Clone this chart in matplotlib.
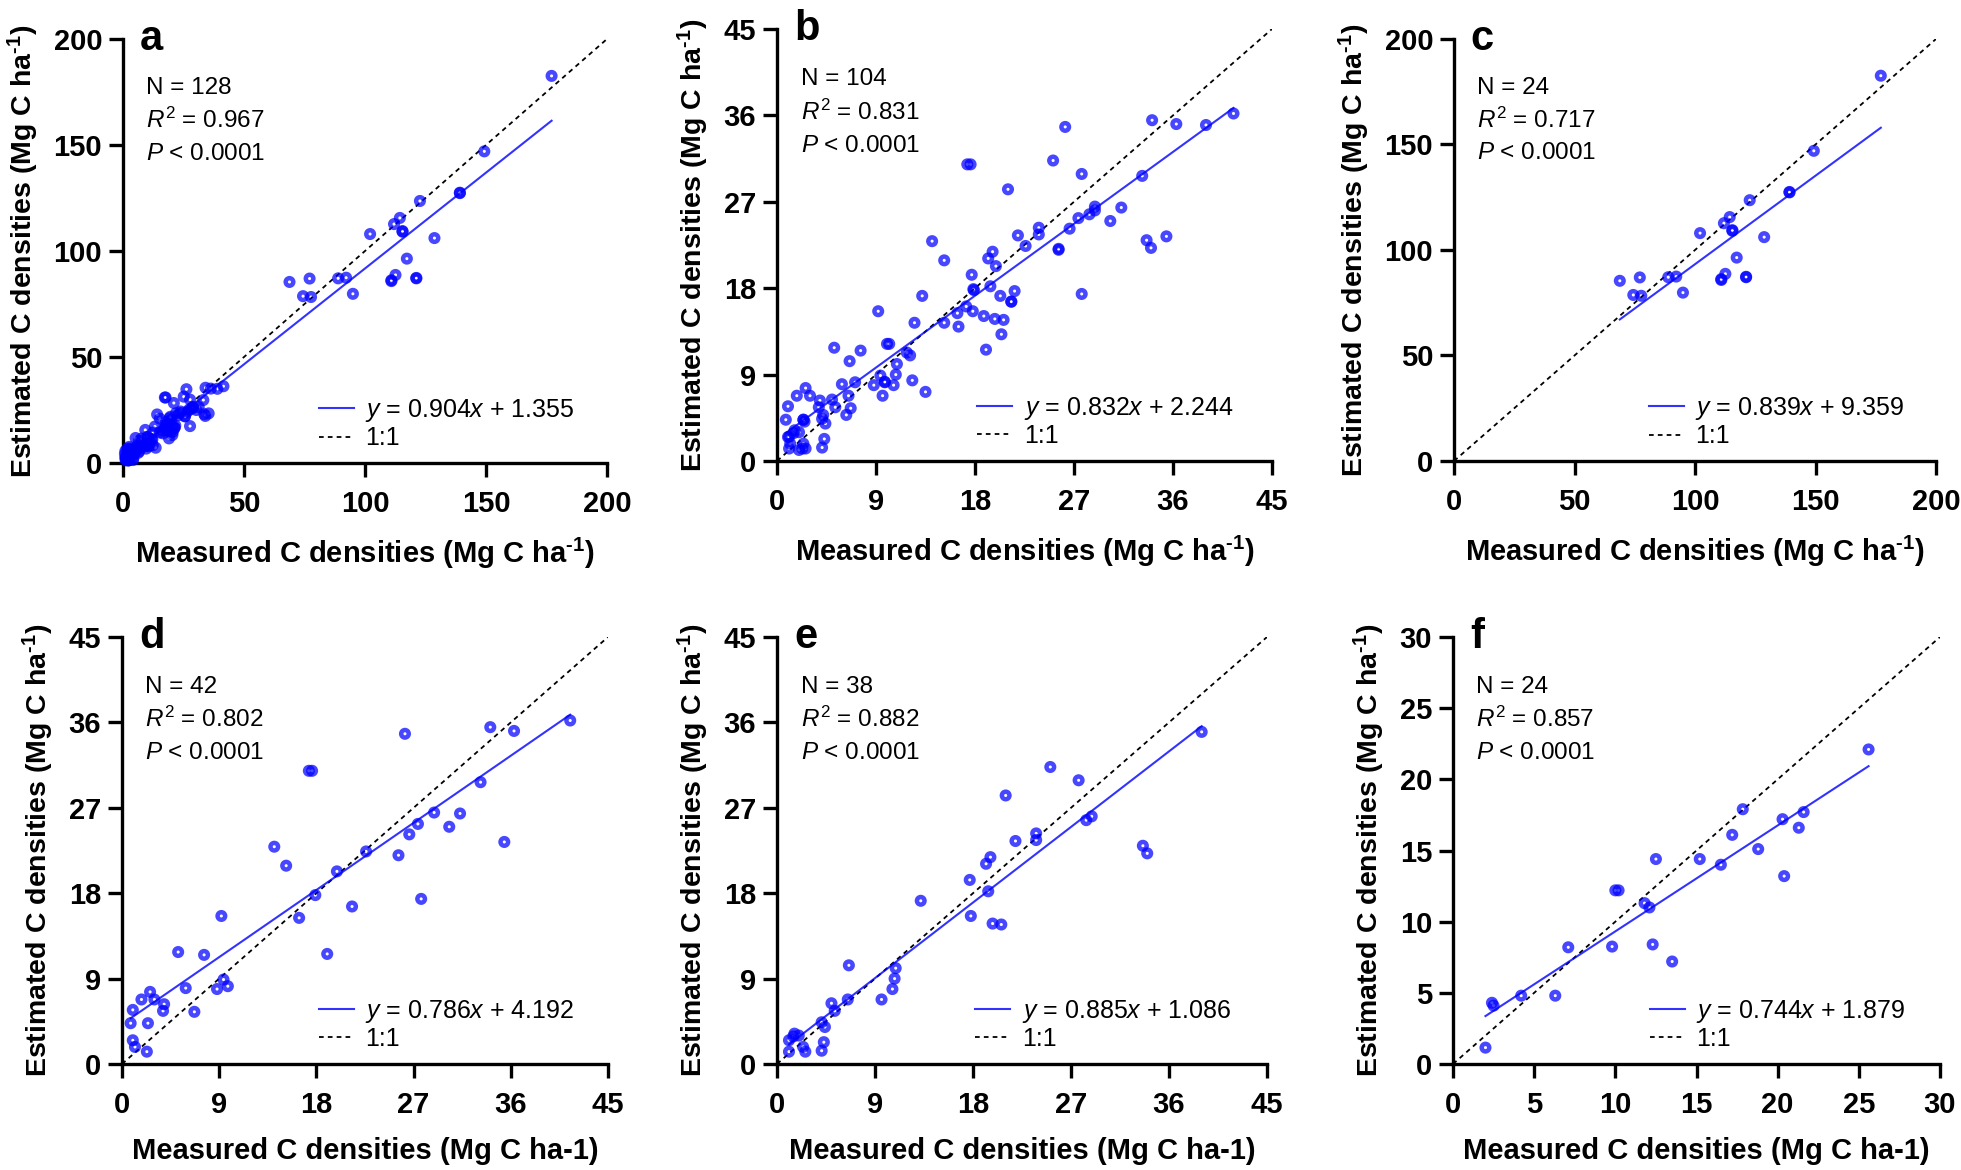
import matplotlib
matplotlib.use('Agg')
import matplotlib.pyplot as plt
import numpy as np

plt.rcParams['font.family'] = 'Liberation Sans'
plt.rcParams['mathtext.fontset'] = 'custom'
plt.rcParams['mathtext.rm'] = 'Liberation Sans'
plt.rcParams['mathtext.it'] = 'Liberation Sans:italic'
plt.rcParams['mathtext.bf'] = 'Liberation Sans:bold'

# panel c: high-density subset (measured, estimated)
c_meas = [177.1, 149.3, 139.2, 139.2, 122.7, 114.4, 112.0, 115.5, 115.5, 128.7, 102.1, 117.3,
          112.6, 110.9, 110.9, 121.2, 121.2, 92.2, 88.9, 95.0, 77.1, 68.8, 74.4, 77.7]
c_est = [182.6, 147.0, 127.3, 127.5, 123.6, 115.6, 112.7, 109.1, 109.4, 106.1, 108.0, 96.4,
         88.7, 85.8, 86.2, 87.1, 87.3, 87.4, 87.1, 79.8, 87.0, 85.4, 78.7, 78.3]

# panel d
d_meas = [41.5, 34.1, 36.3, 26.2, 17.3, 17.6, 33.2, 28.9, 31.3, 27.4, 30.3, 26.6, 35.4, 14.1,
          15.2, 22.6, 25.6, 19.9, 17.9, 27.7, 21.3, 16.4, 19.0, 9.2, 5.2, 7.6, 9.4, 8.8, 9.8,
          5.9, 2.6, 1.8, 3.0, 3.9, 3.8, 1.0, 6.7, 0.8, 2.4, 1.0, 1.2, 2.3]
d_est = [36.2, 35.5, 35.1, 34.8, 30.9, 30.9, 29.7, 26.5, 26.4, 25.3, 25.0, 24.2, 23.4, 22.9,
         20.9, 22.4, 22.0, 20.3, 17.8, 17.4, 16.6, 15.4, 11.6, 15.6, 11.8, 11.5, 8.9, 7.9, 8.2,
         8.0, 7.6, 6.8, 6.8, 6.3, 5.6, 5.7, 5.5, 4.3, 4.3, 2.5, 1.8, 1.3]

# panel e
e_meas = [39.0, 25.1, 27.7, 21.0, 28.4, 28.9, 33.6, 34.0, 23.8, 23.8, 21.9, 19.6, 19.2, 17.7,
          19.4, 17.8, 19.8, 20.6, 13.2, 6.6, 10.9, 10.8, 10.6, 9.6, 6.5, 5.0, 5.3, 4.1, 4.4,
          4.3, 4.1, 1.6, 2.0, 1.1, 2.4, 2.6, 1.1, 1.5]
e_est = [35.0, 31.3, 29.9, 28.3, 25.7, 26.1, 23.0, 22.2, 24.3, 23.6, 23.5, 21.8, 21.1, 19.4,
         18.2, 15.6, 14.8, 14.7, 17.2, 10.4, 10.1, 9.0, 7.9, 6.8, 6.8, 6.4, 5.6, 4.4, 3.9,
         2.3, 1.4, 3.2, 3.0, 2.5, 1.8, 1.3, 1.3, 2.9]

# panel f
f_meas = [25.6, 17.85, 21.6, 20.3, 21.3, 17.2, 18.8, 15.2, 16.5, 12.5, 20.4, 10.0, 10.2, 11.8,
          12.1, 9.8, 12.3, 13.5, 7.1, 4.2, 6.3, 2.4, 2.5, 2.0]
f_est = [22.1, 17.9, 17.7, 17.2, 16.6, 16.1, 15.1, 14.4, 14.0, 14.4, 13.2, 12.2, 12.2, 11.3,
         11.0, 8.25, 8.4, 7.2, 8.2, 4.8, 4.8, 4.3, 4.1, 1.15]

# b = d + e + f, a = b + c
b_meas = d_meas + e_meas + f_meas
b_est = d_est + e_est + f_est
a_meas = b_meas + c_meas
a_est = b_est + c_est

letters = ['a', 'b', 'c', 'd', 'e', 'f']
meas = [a_meas, b_meas, c_meas, d_meas, e_meas, f_meas]
est = [a_est, b_est, c_est, d_est, e_est, f_est]
r2 = ['0.967', '0.831', '0.717', '0.802', '0.882', '0.857']
slopes = [0.904, 0.832, 0.839, 0.786, 0.885, 0.744]
intercepts = [1.355, 2.244, 9.359, 4.192, 1.086, 1.879]
ax_max = [200, 45, 200, 45, 45, 30]
ax_step = [50, 9, 50, 9, 9, 5]
sup = 'ha$^{\\mathbf{\u20101}}$'
xlabels = ['Measured C densities (Mg C ' + sup + ')'] * 3 + ['Measured C densities (Mg C ha-1)'] * 3
ylabel = 'Estimated C densities (Mg C ' + sup + ')'

W, H = 1961, 1170
# axes boxes in pixels: left, top, right, bottom
boxes = [(123, 39, 607, 463), (777, 29, 1272, 461), (1454, 39, 1936, 461),
         (122, 637, 608, 1064), (777, 637, 1267, 1064), (1453, 637, 1940, 1064)]

blue = '#0000ff'
fig = plt.figure(figsize=(W / 100, H / 100), dpi=100)

for i in range(6):
    l, t, r, b = boxes[i]
    ax = fig.add_axes([l / W, 1 - b / H, (r - l) / W, (b - t) / H])
    x = np.array(meas[i])
    y = np.array(est[i])
    top = ax_max[i]

    ax.plot([0, top], [0, top], color='black', lw=1.3, ls=(0, (2.6, 2.3)), label='1:1', zorder=2)
    xs = np.array([x.min(), x.max()])
    ax.plot(xs, slopes[i] * xs + intercepts[i], color=blue, alpha=0.8, lw=1.5,
            label='$y$ = %.3f$x$ + %.3f' % (slopes[i], intercepts[i]), zorder=3)
    ax.scatter(x, y, s=30, facecolors='none', edgecolors=blue, linewidths=3.2,
               alpha=0.72, zorder=4, clip_on=False)

    ax.set_xlim(0, top)
    ax.set_ylim(0, top)
    ticks = np.arange(0, top + 1, ax_step[i])
    ax.set_xticks(ticks)
    ax.set_yticks(ticks)
    ax.spines['top'].set_visible(False)
    ax.spines['right'].set_visible(False)
    for s in ['left', 'bottom']:
        ax.spines[s].set_linewidth(2.4)
    ax.tick_params(direction='out', length=10, width=2.4, labelsize=21)
    ax.tick_params(axis='x', pad=9.5)
    ax.tick_params(axis='y', pad=5)
    plt.setp(ax.get_xticklabels() + ax.get_yticklabels(), fontweight='bold')

    ax.set_xlabel(xlabels[i], fontsize=21, fontweight='bold', labelpad=13)
    ax.set_ylabel(ylabel, fontsize=20.5, fontweight='bold', labelpad=9)

    ax.text(0.035, 0.975, letters[i], transform=ax.transAxes, fontsize=30,
            fontweight='bold', va='baseline')
    ax.text(0.048, 0.87, 'N = %d' % len(x), transform=ax.transAxes, fontsize=17.5, va='baseline')
    ax.text(0.048, 0.79, '$R^2$ = ' + r2[i], transform=ax.transAxes, fontsize=17.5, va='baseline')
    ax.text(0.048, 0.715, '$P$ < 0.0001', transform=ax.transAxes, fontsize=17.5, va='baseline')

    handles, labs = ax.get_legend_handles_labels()
    ax.legend(handles[::-1], labs[::-1], loc='lower left', bbox_to_anchor=(0.405, 0.03),
              frameon=False, fontsize=18, handlelength=1.4, handletextpad=0.45,
              labelspacing=0.1, borderpad=0, borderaxespad=0)

fig.savefig('out.png', dpi=100)
